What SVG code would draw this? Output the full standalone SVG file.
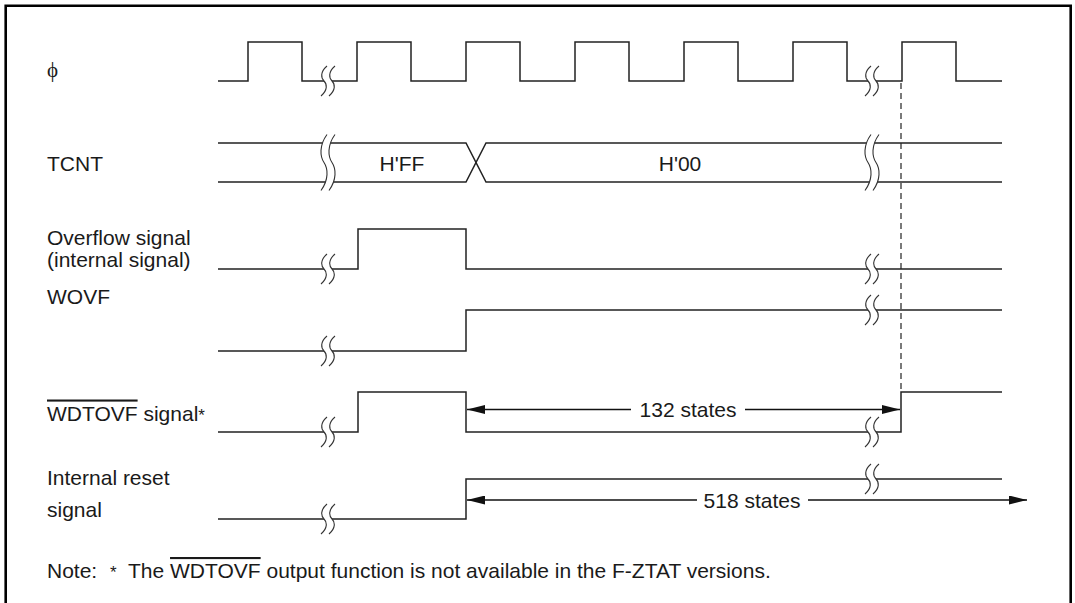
<svg xmlns="http://www.w3.org/2000/svg" xmlns:xlink="http://www.w3.org/1999/xlink" width="1075" height="603" viewBox="0 0 1075 603">
<style>
  text { font-family: "Liberation Sans", Arial, sans-serif; font-size: 21px; fill: #1a1a1a; }
  .phi { font-family: "Liberation Serif", "DejaVu Serif", serif; font-size: 21px; }
  .wave { fill: none; stroke: #222; stroke-width: 1.5; stroke-linejoin: miter; }
  .brk-curve { fill: none; stroke: #333; stroke-width: 1.1; }
  .brk-fill { fill: #fff; stroke: none; }
  .arrow { fill: none; stroke: #111; stroke-width: 1.4; marker-end: url(#ah); }
  .dash { fill: none; stroke: #222; stroke-width: 1.2; stroke-dasharray: 6 4; }
  .frame { fill: none; stroke: #000; stroke-width: 2.6; }
  .ovl { text-decoration: overline; }
</style>
<defs>
  <marker id="ah" markerWidth="18" markerHeight="9" refX="18" refY="4.5" orient="auto" markerUnits="userSpaceOnUse">
    <path d="M0,0 L18,4.5 L0,9 Z" fill="#111"/>
  </marker>
  <g id="brk">
    <path class="brk-fill" d="M-1,-15 C-8,-9 -7,-3 -4,0 C-1,3 0,9 -7,15 L1,15 C8,9 7,3 4,0 C1,-3 0,-9 7,-15 Z"/>
    <path class="brk-curve" d="M-1,-15 C-8,-9 -7,-3 -4,0 C-1,3 0,9 -7,15"/>
    <path class="brk-curve" d="M7,-15 C0,-9 1,-3 4,0 C7,3 8,9 1,15"/>
  </g>
  <g id="brk-bus">
    <path class="brk-fill" d="M-1,-28 C-9,-17 -8,-6 -4,0 C0,6 1,17 -7,28 L1,28 C9,17 8,6 4,0 C0,-6 -1,-17 7,-28 Z"/>
    <path class="brk-curve" d="M-1,-28 C-9,-17 -8,-6 -4,0 C0,6 1,17 -7,28"/>
    <path class="brk-curve" d="M7,-28 C-1,-17 0,-6 4,0 C8,6 9,17 1,28"/>
  </g>
</defs>

<rect width="1075" height="603" fill="#fff"/>
<path class="frame" d="M5.7,603 V5.7 H1070.7 V603"/>

<g id="connectors">
  <path class="dash" d="M901,83 V392"/>
  <path class="arrow" d="M631,409.5 H467"/>
  <path class="arrow" d="M745,409.5 H900"/>
  <path class="arrow" d="M697,500 H467"/>
  <path class="arrow" d="M808,500 H1027"/>
  <text x="688" y="417" text-anchor="middle">132 states</text>
  <text x="752" y="507.5" text-anchor="middle">518 states</text>
</g>

<g id="sig-phi">
  <text class="phi" x="47" y="77">ϕ</text>
  <path class="wave" d="M218,81 H248 V42 H302 V81 H357 V42 H411 V81 H466 V42 H520 V81 H575 V42 H629 V81 H684 V42 H738 V81 H793 V42 H847 V81 H902 V42 H956 V81 H1002"/>
  <use xlink:href="#brk" x="328" y="81"/>
  <use xlink:href="#brk" x="872" y="81"/>
</g>

<g id="sig-tcnt">
  <text x="47" y="170.5">TCNT</text>
  <path class="wave" d="M218,143 H466 L486,182 H1002"/>
  <path class="wave" d="M218,182 H466 L486,143 H1002"/>
  <use xlink:href="#brk-bus" x="328" y="162.5"/>
  <use xlink:href="#brk-bus" x="872" y="162.5"/>
  <text x="402" y="170.5" text-anchor="middle">H'FF</text>
  <text x="680" y="170.5" text-anchor="middle">H'00</text>
</g>

<g id="sig-overflow">
  <text x="47" y="245">Overflow signal</text>
  <text x="47" y="267">(internal signal)</text>
  <path class="wave" d="M218,269 H358 V229 H466 V269 H1002"/>
  <use xlink:href="#brk" x="328" y="269"/>
  <use xlink:href="#brk" x="872" y="269"/>
</g>

<g id="sig-wovf">
  <text x="47" y="304">WOVF</text>
  <path class="wave" d="M218,351 H466 V310 H1002"/>
  <use xlink:href="#brk" x="328" y="351"/>
  <use xlink:href="#brk" x="872" y="310"/>
</g>

<g id="sig-wdtovf">
  <text x="47" y="420.5"><tspan class="ovl">WDTOVF</tspan> signal<tspan font-size="17">*</tspan></text>
  <path class="wave" d="M218,432 H358 V392 H466 V432 H901 V392 H1002"/>
  <use xlink:href="#brk" x="328" y="432"/>
  <use xlink:href="#brk" x="872" y="432"/>
</g>

<g id="sig-reset">
  <text x="47" y="485">Internal reset</text>
  <text x="47" y="516.5">signal</text>
  <path class="wave" d="M218,519 H466 V479 H1002"/>
  <use xlink:href="#brk" x="328" y="519"/>
  <use xlink:href="#brk" x="872" y="479"/>
</g>

<g id="note">
  <text x="47" y="578">Note:<tspan x="110" font-size="17">*</tspan><tspan x="128">The </tspan><tspan class="ovl">WDTOVF</tspan> output function is not available in the F-ZTAT versions.</text>
</g>
</svg>
